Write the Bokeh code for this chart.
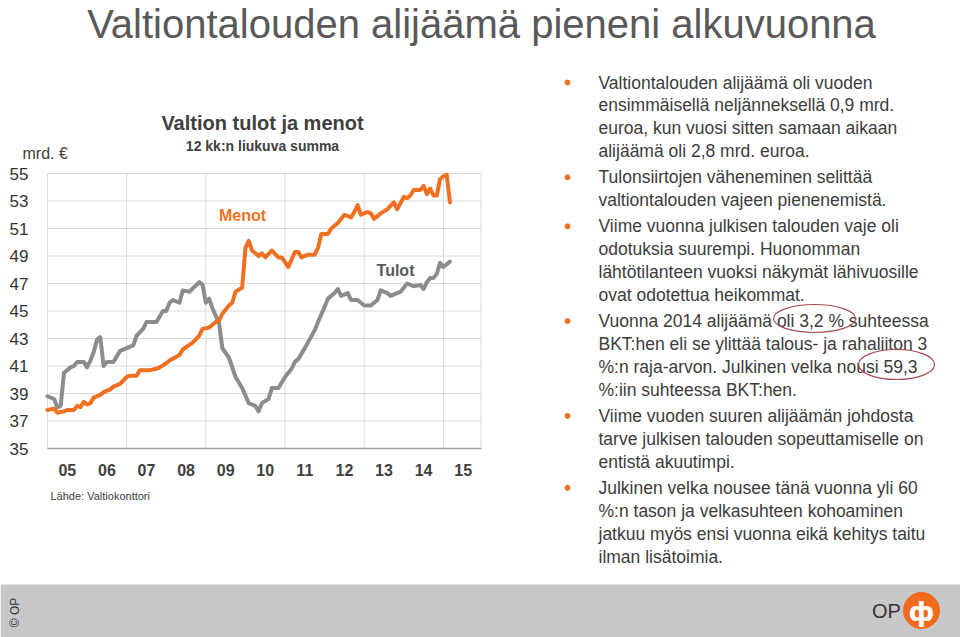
import numpy as np
from bokeh.plotting import figure
from bokeh.models import Range1d, FixedTicker, CustomJSTickFormatter
from bokeh.embed import file_html
from bokeh.resources import INLINE
from bokeh.core.properties import value

FONT = "Liberation Sans"
ORANGE = "#F07022"
GREY = "#8C8C8C"
TXT = "#3C3C3C"
GRID = "#DADADA"

# ---------------- data ----------------
tulot_months = ["2005-01","2005-03","2005-04","2005-05","2005-06","2005-08","2005-09","2005-10","2005-12",
                "2006-01","2006-02","2006-03","2006-04","2006-05","2006-06","2006-07","2006-09","2006-11",
                "2007-01","2007-03","2007-04","2007-06","2007-07","2007-10","2007-12",
                "2008-01","2008-02","2008-03","2008-05","2008-06","2008-08","2008-11","2008-12",
                "2009-01","2009-02","2009-03","2009-05","2009-06","2009-08","2009-10","2009-12",
                "2010-02","2010-04","2010-05","2010-06","2010-08","2010-09","2010-11",
                "2011-01","2011-03","2011-04","2011-05","2011-07","2011-10","2011-11",
                "2012-01","2012-02","2012-04","2012-05","2012-06","2012-08","2012-09","2012-11",
                "2013-01","2013-03","2013-05","2013-06","2013-08","2013-09","2013-11","2013-12",
                "2014-02","2014-03","2014-04","2014-06","2014-07","2014-08","2014-09","2014-10","2014-11","2014-12",
                "2015-01","2015-03"]
tulot_values = [38.8, 38.6, 38.0, 38.1, 40.5, 40.9, 41.0, 41.3, 41.3,
                40.9, 41.4, 42.0, 42.9, 43.1, 41.0, 41.3, 41.3, 42.1,
                42.3, 42.5, 43.2, 43.7, 44.2, 44.2, 45.0,
                45.0, 45.6, 45.8, 45.6, 46.5, 46.4, 47.1, 46.9,
                45.6, 45.9, 45.2, 44.1, 42.3, 41.6, 40.2, 39.4,
                38.3, 38.1, 37.7, 38.3, 38.6, 39.4, 39.4,
                40.2, 40.8, 41.3, 41.5, 42.3, 43.6, 44.2,
                45.3, 45.9, 46.3, 46.6, 46.1, 46.3, 45.8, 45.8,
                45.4, 45.4, 45.8, 46.5, 46.3, 46.1, 46.3, 46.4,
                47.0, 46.9, 46.8, 46.9, 46.6, 47.1, 47.4, 47.4, 47.7, 48.5,
                48.2, 48.6]

menot_months = ["2005-01","2005-03","2005-04","2005-06","2005-07","2005-09","2005-10","2005-11","2005-12",
                "2006-01","2006-02","2006-03","2006-05","2006-06","2006-08","2006-09","2006-11",
                "2007-01","2007-02","2007-04","2007-05","2007-07","2007-08","2007-10","2007-11",
                "2008-01","2008-02","2008-05","2008-06","2008-09","2008-11","2008-12",
                "2009-02","2009-04","2009-05","2009-06","2009-08","2009-09","2009-10","2009-12",
                "2010-01","2010-02","2010-03","2010-05","2010-06","2010-07","2010-09","2010-11","2010-12",
                "2011-02","2011-04","2011-05","2011-06","2011-08","2011-10","2011-11","2011-12",
                "2012-02","2012-03","2012-05","2012-07","2012-09","2012-10","2012-11","2012-12",
                "2013-02","2013-03","2013-04","2013-06","2013-08","2013-10","2013-11",
                "2014-01","2014-02","2014-03","2014-04","2014-06","2014-07","2014-08","2014-09","2014-10","2014-11","2014-12",
                "2015-01","2015-02","2015-03"]
menot_values = [37.8, 37.9, 37.6, 37.7, 37.8, 37.8, 38.1, 38.0, 38.4,
                38.2, 38.3, 38.7, 38.9, 39.1, 39.3, 39.5, 39.7,
                40.2, 40.3, 40.3, 40.7, 40.7, 40.7, 40.8, 40.9,
                41.2, 41.4, 41.8, 42.2, 42.7, 43.2, 43.7,
                43.8, 44.2, 44.3, 44.8, 45.4, 45.6, 46.4, 46.7,
                49.6, 50.1, 49.4, 49.0, 49.2, 48.9, 49.4, 48.9, 48.9,
                48.2, 49.3, 49.3, 48.9, 49.1, 49.1, 49.6, 50.6,
                50.6, 51.0, 51.4, 52.0, 51.8, 52.2, 52.7, 52.0,
                52.2, 52.1, 51.7, 52.1, 52.4, 52.9, 52.4,
                53.3, 53.2, 53.4, 53.8, 53.8, 54.1, 53.5, 53.9, 53.4, 53.4, 54.6,
                54.8, 54.9, 52.9]

year_labels = [2005, 2006, 2007, 2008, 2009, 2010, 2011, 2012, 2013, 2014, 2015]
y_ticks = [35, 37, 39, 41, 43, 45, 47, 49, 51, 53, 55]
grid_years = [2007, 2009, 2011, 2013, 2015]
X_FIRST, X_LAST = 2005.0, 2015.95
Y_MIN, Y_MAX = 35, 55

title_text = "Valtiontalouden alijäämä pieneni alkuvuonna"
bullets = [
    ["Valtiontalouden alijäämä oli vuoden",
     "ensimmäisellä neljänneksellä 0,9 mrd.",
     "euroa, kun vuosi sitten samaan aikaan",
     "alijäämä oli 2,8 mrd. euroa."],
    ["Tulonsiirtojen väheneminen selittää",
     "valtiontalouden vajeen pienenemistä."],
    ["Viime vuonna julkisen talouden vaje oli",
     "odotuksia suurempi. Huonomman",
     "lähtötilanteen vuoksi näkymät lähivuosille",
     "ovat odotettua heikommat."],
    ["Vuonna 2014 alijäämä oli 3,2 % suhteessa",
     "BKT:hen eli se ylittää talous- ja rahaliiton 3",
     "%:n raja-arvon. Julkinen velka nousi 59,3",
     "%:iin suhteessa BKT:hen."],
    ["Viime vuoden suuren alijäämän johdosta",
     "tarve julkisen talouden sopeuttamiselle on",
     "entistä akuutimpi."],
    ["Julkinen velka nousee tänä vuonna yli 60",
     "%:n tason ja velkasuhteen kohoaminen",
     "jatkuu myös ensi vuonna eikä kehitys taitu",
     "ilman lisätoimia."],
]

assert len(tulot_months) == len(tulot_values)
assert len(menot_months) == len(menot_values)


def to_year(s):
    y, m = s.split("-")
    return int(y) + (int(m) - 1) / 12.0


# ---------------- geometry (page pixels) ----------------
CAN_W, CAN_H = 960, 637
PAGE_X0, PAGE_Y0 = 0, 0
CH_LEFT, CH_RIGHT = 47.0, 480.5     # page x of X_FIRST / X_LAST
CH_TOP, CH_BOTTOM = 173.0, 448.0    # page y of Y_MAX / Y_MIN
px_yr = (CH_RIGHT - CH_LEFT) / (X_LAST - X_FIRST)
px_unit = (CH_BOTTOM - CH_TOP) / (Y_MAX - Y_MIN)
x_start = X_FIRST - (CH_LEFT - PAGE_X0) / px_yr
x_end = x_start + CAN_W / px_yr
y_start = Y_MIN - (PAGE_Y0 + CAN_H - CH_BOTTOM) / px_unit
y_end = y_start + CAN_H / px_unit

p = figure(width=CAN_W, height=CAN_H, x_range=Range1d(x_start, x_end), y_range=Range1d(y_start, y_end),
           output_backend="svg", toolbar_location=None, title=None, min_border=0)
p.outline_line_color = None
p.grid.visible = False
p.background_fill_color = "white"
p.border_fill_color = "white"
p.extra_x_ranges = {"px": Range1d(PAGE_X0, PAGE_X0 + CAN_W)}
p.extra_y_ranges = {"py": Range1d(PAGE_Y0 + CAN_H, PAGE_Y0)}
PX = dict(x_range_name="px", y_range_name="py")

# footer band
p.quad(left=[PAGE_X0], right=[PAGE_X0 + CAN_W], bottom=[PAGE_Y0 + CAN_H], top=[584],
       color="#C8C8C8", line_color=None, **PX)

# chart grid (inside chart box only)
p.segment(x0=[X_FIRST] * len(y_ticks), y0=y_ticks, x1=[X_LAST] * len(y_ticks), y1=y_ticks,
          line_color=GRID, line_width=1)
vx = [X_FIRST] + grid_years + [X_LAST]
p.segment(x0=vx, y0=[Y_MIN] * len(vx), x1=vx, y1=[Y_MAX] * len(vx), line_color=GRID, line_width=1)

# axes fixed to the chart box
p.yaxis.fixed_location = X_FIRST
p.yaxis.bounds = (Y_MIN, Y_MAX)
p.yaxis.ticker = FixedTicker(ticks=y_ticks)
p.yaxis.axis_line_color = None
p.yaxis.major_tick_out = 0
p.yaxis.major_tick_in = 0
p.yaxis.minor_tick_out = 0
p.yaxis.minor_tick_in = 0
p.yaxis.major_label_standoff = 19
p.yaxis.major_label_text_font = FONT
p.yaxis.major_label_text_font_size = "17px"
p.yaxis.major_label_text_color = "#333333"

p.xaxis.fixed_location = Y_MIN
p.xaxis.bounds = (X_FIRST, X_LAST)
p.xaxis.ticker = FixedTicker(ticks=[y + 0.5 for y in year_labels])
p.xaxis.formatter = CustomJSTickFormatter(code="return String(Math.floor(tick)).slice(2);")
p.xaxis.axis_line_color = "#A6A6A6"
p.xaxis.axis_line_width = 1.5
p.xaxis.major_tick_out = 0
p.xaxis.major_tick_in = 0
p.xaxis.minor_tick_out = 0
p.xaxis.minor_tick_in = 0
p.xaxis.major_label_standoff = 15
p.xaxis.major_label_text_font = FONT
p.xaxis.major_label_text_font_size = "16px"
p.xaxis.major_label_text_font_style = "bold"
p.xaxis.major_label_text_color = "#404040"

# series
p.line([to_year(s) for s in tulot_months], tulot_values, line_width=4, color=GREY,
       line_join="round", line_cap="round")
p.line([to_year(s) for s in menot_months], menot_values, line_width=4, color=ORANGE,
       line_join="round", line_cap="round")


def ptext(X, Y, text, size, color=TXT, bold=False, align="center", baseline="middle", font=FONT, angle=0.0):
    p.text(x=[X], y=[Y], text=[text], text_font=value(font), text_font_size=size,
           text_color=color, text_font_style="bold" if bold else "normal",
           text_align=align, text_baseline=baseline, angle=angle, **PX)


# texts
ptext(481, 23, title_text, "40px", "#595959")
ptext(262, 122, "Valtion tulot ja menot", "20px", "#404040", bold=True)
ptext(262, 145, "12 kk:n liukuva summa", "14px", "#404040", bold=True)
ptext(22, 153, "mrd. €", "16px", "#404040", align="left")
ptext(242, 215, "Menot", "16px", ORANGE, bold=True)
ptext(395, 270, "Tulot", "16px", "#595959", bold=True)
ptext(50, 495, "Lähde: Valtiokonttori", "11px", "#404040", align="left")

# bullet list
line_x, line_y, line_t, dot_y = [], [], [], []
yy = 82.0
for b in bullets:
    dot_y.append(yy)
    for ln in b:
        line_x.append(598)
        line_y.append(yy)
        line_t.append(ln)
        yy += 22.9
    yy += 3.2
p.scatter(x=[567] * len(dot_y), y=dot_y, size=5, color=ORANGE, **PX)
p.text(x=line_x, y=line_y, text=line_t, text_font=value(FONT), text_font_size="17.5px",
       text_color=TXT, text_align="left", text_baseline="middle", **PX)
p.ellipse(x=[814, 896], y=[318, 364], width=[82, 76], height=[28, 30],
          fill_color=None, line_color="#A84B55", line_width=1.2, **PX)

# footer
ptext(14, 612, "© OP", "12px", "#333333", angle=np.pi / 2)
ptext(886, 610, "OP", "20px", "#333333")
p.scatter(x=[921], y=[610], size=36, color="#F26B1D", **PX)
ptext(921, 611, "ф", "26px", "white", bold=True, font="DejaVu Sans")

open("out.html", "w").write(file_html(p, INLINE))
